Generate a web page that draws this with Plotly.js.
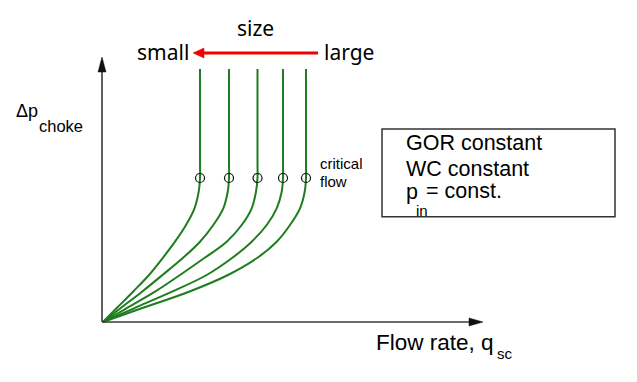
<!DOCTYPE html>
<html><head><meta charset="utf-8">
<script src="https://cdn.plot.ly/plotly-3.0.1.min.js"></script>
<style>html,body{margin:0;padding:0;background:#fff}#chart{width:637px;height:382px}</style>
</head><body><div id="chart"></div>
<script>
// Choke performance curves (schematic): flow rate vs pressure drop, for 5 choke sizes
const chokeSizes = ['small', 'size 2', 'size 3', 'size 4', 'large'];
const curveY = [0, 13.7, 30.3, 47, 63.7, 80.3, 97, 113.7, 130.3, 144, 160, 253];
const curve1X = [0, 13.5, 30, 46, 59.5, 72, 83, 91.5, 95.7, 97, 97, 97];
const curve2X = [0, 17.5, 39, 59.5, 79.5, 97, 110.3, 120.3, 124.7, 126, 126, 126];
const curve3X = [0, 23.5, 52, 77, 101, 123.7, 138.7, 148.7, 153, 154.5, 154.5, 154.5];
const curve4X = [0, 31, 69, 103.7, 128.7, 148.7, 163.7, 173.7, 178.7, 180, 180, 180];
const curve5X = [0, 38.6, 86, 125, 153.7, 173.7, 187, 197, 201.7, 203, 203, 203];
const criticalX = [97, 126, 154.5, 180, 203];
const criticalY = [144, 144, 144, 144, 144];

const curvesX = [curve1X, curve2X, curve3X, curve4X, curve5X];

const GREEN = '#1f7d1f';
const traces = curvesX.map((xs, i) => ({
  x: xs, y: curveY, type: 'scatter', mode: 'lines', name: chokeSizes[i],
  line: {color: GREEN, width: 2, shape: 'spline', smoothing: 1},
  hoverinfo: 'skip', showlegend: false
}));
traces.push({
  x: criticalX, y: criticalY, type: 'scatter', mode: 'markers', name: 'critical flow',
  marker: {symbol: 'circle-open', size: 9, color: '#111', line: {width: 1.2, color: '#111'}},
  showlegend: false, hoverinfo: 'skip'
});

const ARIAL = 'Liberation Sans, Arial, sans-serif';
const NOTO = 'Noto Sans, sans-serif';
function ann(text, x, y, size, xanchor, family) {
  return {text: text, x: x, y: y, xref: 'x', yref: 'y', showarrow: false,
    xanchor: xanchor || 'left', yanchor: 'middle',
    font: {family: family || ARIAL, size: size, color: '#000'}};
}

const annotations = [
  ann('size', 152, 294, 21, 'center', NOTO),
  ann('small', 88, 270, 21, 'right', NOTO),
  ann('large', 219, 270, 21, 'left', NOTO),
  ann('critical', 215, 159, 15),
  ann('flow', 215, 141, 15),
  ann('GOR constant', 301, 179, 21.5),
  ann('WC constant', 301, 153.5, 21.5),
  ann('p', 301, 130, 21.5),
  ann('in', 311, 112, 15),
  ann('= const.', 321, 131, 21.5),
  ann('Flow rate, q', 271, -20, 22.5),
  ann('sc', 392, -31, 15),
  ann('Δp', -89, 211, 18),
  ann('choke', -66, 196, 16.5)
];

const AX = '#3a3a3a';
const shapes = [
  {type: 'line', x0: -1, y0: 0, x1: 370, y1: 0, line: {color: AX, width: 1.6}},
  {type: 'line', x0: -1, y0: 0, x1: -1, y1: 255, line: {color: AX, width: 1.6}},
  {type: 'path', path: 'M 366 -4 L 380 0 L 366 4 Z', fillcolor: '#111', line: {color: '#111', width: 0.5}},
  {type: 'path', path: 'M -5 250 L -1 265 L 3 250 Z', fillcolor: '#111', line: {color: '#111', width: 0.5}},
  {type: 'line', x0: 98, y0: 269, x1: 215, y1: 269, line: {color: '#f00000', width: 3.2}},
  {type: 'path', path: 'M 101 274 L 90 269 L 101 264 Z', fillcolor: '#f00000', line: {color: '#f00000', width: 0.5}},
  {type: 'rect', x0: 279, y0: 105.3, x1: 512, y1: 193, line: {color: '#333', width: 1.5}, fillcolor: 'rgba(0,0,0,0)'}
];

const layout = {
  width: 637, height: 382,
  margin: {l: 0, r: 0, t: 0, b: 0, pad: 0},
  paper_bgcolor: '#fff', plot_bgcolor: '#fff',
  xaxis: {range: [-103, 534], visible: false, fixedrange: true},
  yaxis: {range: [-60, 322], visible: false, fixedrange: true},
  annotations: annotations, shapes: shapes, showlegend: false
};
Plotly.newPlot('chart', traces, layout, {staticPlot: true, displayModeBar: false});
</script></body></html>
